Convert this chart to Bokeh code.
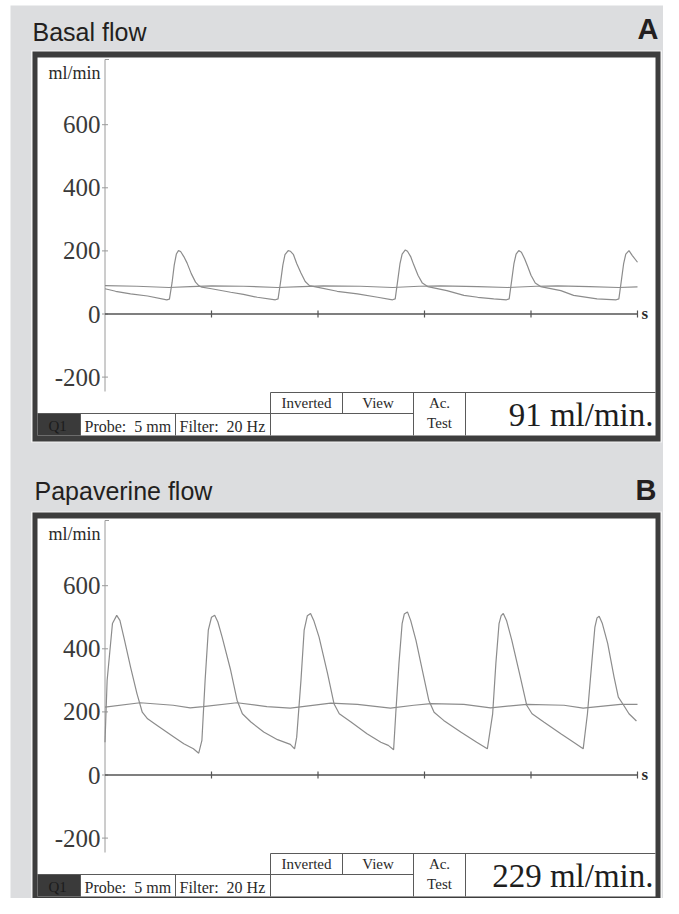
import math
from bokeh.plotting import figure
from bokeh.models import Range1d
from bokeh.core.properties import value
from bokeh.embed import file_html
from bokeh.resources import INLINE

# ---------------- data ----------------
y_ticks = [600, 400, 200, 0, -200]
y_tick_labels = ["600", "400", "200", "0", "-200"]
t_ticks = [1, 2, 3, 4, 5]

# Panel A: basal flow (pulsatile trace, ml/min vs s)
basal_t = [0.00, 0.10, 0.24, 0.40, 0.58, 0.605, 0.63, 0.65, 0.67, 0.69, 0.71, 0.74, 0.77, 0.81, 0.85, 0.88, 0.91,
           1.00, 1.18, 1.30, 1.43, 1.60, 1.625, 1.65, 1.67, 1.69, 1.72, 1.74, 1.77, 1.80, 1.84, 1.88, 1.92, 1.99,
           2.18, 2.37, 2.56, 2.70, 2.725, 2.75, 2.77, 2.79, 2.82, 2.84, 2.87, 2.90, 2.94, 2.98, 3.03,
           3.21, 3.37, 3.50, 3.65, 3.77, 3.795, 3.82, 3.84, 3.86, 3.885, 3.91, 3.94, 3.97, 4.00, 4.04, 4.09,
           4.28, 4.40, 4.62, 4.80, 4.825, 4.85, 4.87, 4.89, 4.92, 4.95, 5.00]
basal_flow = [80, 72, 64, 57, 45, 47, 100, 155, 190, 201, 198, 182, 162, 128, 101, 90, 85,
              80, 69, 62, 53, 45, 48, 105, 155, 188, 201, 199, 188, 160, 130, 103, 90, 85,
              72, 64, 53, 45, 48, 110, 160, 190, 203, 199, 182, 155, 122, 98, 87,
              74, 59, 53, 48, 45, 48, 110, 160, 190, 201, 196, 175, 150, 123, 98, 87,
              74, 59, 48, 45, 48, 110, 160, 190, 201, 186, 164]
# Panel A: mean flow trace
basal_mean_t = [0.00, 0.30, 0.60, 0.80, 1.00, 1.30, 1.62, 1.85, 2.05, 2.40, 2.70, 2.95, 3.15, 3.50, 3.78,
                4.05, 4.25, 4.55, 4.82, 5.00]
basal_mean = [90, 88, 84, 87, 89, 88, 84, 87, 89, 88, 84, 88, 89, 87, 84, 88, 89, 87, 84, 86]

# Panel B: papaverine flow (pulsatile trace)
pap_t = [0.00, 0.02, 0.07, 0.11, 0.14, 0.18, 0.24, 0.30, 0.35, 0.40, 0.49, 0.65, 0.74, 0.83, 0.88,
         0.91, 0.94, 0.97, 1.00, 1.03, 1.06, 1.10, 1.18, 1.24, 1.29, 1.37, 1.49, 1.62, 1.74, 1.78,
         1.80, 1.84, 1.87, 1.90, 1.93, 1.96, 2.01, 2.09, 2.15, 2.20, 2.31, 2.46, 2.59, 2.66, 2.71,
         2.73, 2.76, 2.79, 2.81, 2.84, 2.87, 2.92, 2.98, 3.04, 3.09, 3.18, 3.34, 3.49, 3.59,
         3.64, 3.67, 3.70, 3.72, 3.74, 3.77, 3.82, 3.90, 3.96, 4.01, 4.12, 4.28, 4.40, 4.49,
         4.53, 4.57, 4.60, 4.62, 4.64, 4.67, 4.72, 4.78, 4.82, 4.87, 4.92, 4.99]
pap_flow = [104, 300, 480, 506, 490, 432, 342, 258, 199, 178, 157, 120, 99, 83, 69,
            110, 300, 459, 500, 506, 485, 437, 332, 237, 194, 168, 136, 112, 97, 83,
            120, 300, 459, 505, 512, 490, 437, 321, 226, 194, 168, 131, 104, 94, 80,
            194, 353, 480, 510, 517, 490, 427, 332, 237, 199, 173, 136, 104, 83,
            194, 353, 480, 505, 512, 490, 427, 310, 221, 194, 168, 131, 104, 83,
            194, 353, 469, 498, 503, 480, 417, 310, 247, 221, 194, 171]
# Panel B: mean flow trace
pap_mean_t = [0.00, 0.33, 0.64, 0.80, 0.92, 1.24, 1.52, 1.74, 2.12, 2.37, 2.68, 2.90, 3.06, 3.37, 3.62,
              3.96, 4.31, 4.49, 4.84, 5.00]
pap_mean = [215, 229, 221, 213, 217, 229, 217, 212, 228, 224, 212, 221, 226, 224, 213, 224, 221, 212, 224, 224]

panel_titles = ["Basal flow", "Papaverine flow"]
panel_letters = ["A", "B"]
readings = ["91 ml/min.", "229 ml/min."]
unit_label = "ml/min"
time_label = "s"
probe_text = "Probe:\u00a0 5 mm"
filter_text = "Filter:\u00a0 20 Hz"
channel_text = "Q1"
btn_texts = ["Inverted", "View"]
ac_texts = ["Ac.", "Test"]

# ---------------- layout (screen pixels) ----------------
W, H = 663, 898
OFF = 0
X0, SX = 104.5, 106.5      # x of t=0, px per second
K = 0.3155                 # px per ml/min
ZERO = [313.5, 774.5]      # y of 0 ml/min in each panel
DY = [0, 461]              # vertical offset of panel B

SERIF = value("Liberation Serif")
SANS = value("Liberation Sans")

p = figure(width=W, height=H, output_backend="svg", toolbar_location=None,
           x_axis_type=None, y_axis_type=None, min_border=0,
           x_range=Range1d((OFF - X0) / SX, (OFF + W - X0) / SX),
           y_range=Range1d((ZERO[0] - (OFF + H)) / K, (ZERO[0] - OFF) / K))
p.extra_x_ranges = {"px": Range1d(OFF, OFF + W)}
p.extra_y_ranges = {"px": Range1d(OFF + H, OFF),
                    "b": Range1d((ZERO[1] - (OFF + H)) / K, (ZERO[1] - OFF) / K)}
p.outline_line_color = None
p.background_fill_color = "white"
p.border_fill_color = "white"
p.min_border_left = p.min_border_right = p.min_border_top = p.min_border_bottom = 0

PX = dict(x_range_name="px", y_range_name="px")

# gray backdrop
p.quad(left=[10], right=[OFF + W], top=[5], bottom=[OFF + H], fill_color="#dcdddf", line_color=None, **PX)

yr_names = ["default", "b"]
series = [(basal_t, basal_flow, basal_mean_t, basal_mean), (pap_t, pap_flow, pap_mean_t, pap_mean)]

for i in range(2):
    d = DY[i]
    yr = yr_names[i]
    # monitor frame
    p.quad(left=[30.5], right=[661.5], top=[50 + d], bottom=[442 + d], fill_color="#f3f3f3", line_color=None, **PX)
    p.quad(left=[32], right=[660], top=[51 + d], bottom=[441 + d], fill_color="#3d3d3d", line_color=None, **PX)
    p.quad(left=[37], right=[655], top=[57 + d], bottom=[435 + d], fill_color="white", line_color=None, **PX)
    # status bar
    p.quad(left=[37], right=[80], top=[413 + d], bottom=[435 + d], fill_color="#3a3a3a", line_color=None, **PX)
    hx0 = [37, 270, 270]
    hx1 = [270, 655, 413]
    hy = [413 + d, 392 + d, 413 + d]
    p.segment(x0=hx0, x1=hx1, y0=hy, y1=hy, line_color="#5a5a5a", line_width=1, **PX)
    vx = [80, 175, 270, 342, 413, 465]
    vy0 = [413 + d, 413 + d, 392 + d, 392 + d, 392 + d, 392 + d]
    vy1 = [435 + d, 435 + d, 435 + d, 413 + d, 435 + d, 435 + d]
    p.segment(x0=vx, x1=vx, y0=vy0, y1=vy1, line_color="#5a5a5a", line_width=1, **PX)

    # status texts
    p.text(x=[48], y=[425.5 + d], text=[channel_text], text_font=SERIF, text_font_size="15px",
           text_color="#1c1c1c", text_baseline="middle", **PX)
    p.text(x=[84, 179], y=[425.5 + d, 425.5 + d], text=[probe_text, filter_text], text_font=SERIF,
           text_font_size="16px", text_color="#2a2a2a", text_baseline="middle", **PX)
    p.text(x=[306, 377.5, 439, 439], y=[402.5 + d, 402.5 + d, 402 + d, 422 + d],
           text=btn_texts + ac_texts, text_font=SERIF, text_font_size="15px", text_color="#2a2a2a",
           text_align="center", text_baseline="middle", **PX)
    p.text(x=[653], y=[414 + d], text=[readings[i]], text_font=SERIF, text_font_size="33px",
           text_color="#1e1e1e", text_align="right", text_baseline="middle", **PX)

    # titles
    p.text(x=[32 + 2 * i], y=[31 + 459 * i], text=[panel_titles[i]], text_font=SANS, text_font_size="25px",
           text_color="#231f20", text_baseline="middle", **PX)
    p.text(x=[658 - 2 * i], y=[28.5 + 461 * i], text=[panel_letters[i]], text_font=SANS, text_font_size="29px",
           text_font_style="bold", text_color="#231f20", text_align="right", text_baseline="middle", **PX)

    # y axis (drawn through data scales)
    p.segment(x0=[0], x1=[0], y0=[59 + d], y1=[391 + d], line_color="#9a9a9a", line_width=1,
              x_range_name="default", y_range_name="px")
    p.segment(x0=[104.5], x1=[108.5], y0=[59 + d], y1=[59 + d], line_color="#9a9a9a", line_width=1, **PX)
    p.scatter(x=[0] * len(y_ticks), y=y_ticks, marker="dash", size=6, line_color="#9a9a9a", line_width=1,
              y_range_name=yr)
    p.text(x=[100] * len(y_ticks), y=y_ticks, text=y_tick_labels, text_font=SERIF, text_font_size="25px",
           text_color="#3a3a3a", text_align="right", text_baseline="middle",
           x_range_name="px", y_range_name=yr)
    p.text(x=[100], y=[72.5 + d], text=[unit_label], text_font=SERIF, text_font_size="18px",
           text_color="#2a2a2a", text_align="right", text_baseline="middle", **PX)

    # time axis
    p.segment(x0=[0], x1=[t_ticks[-1]], y0=[0], y1=[0], line_color="#555555", line_width=1.4, y_range_name=yr)
    p.scatter(x=t_ticks, y=[0] * len(t_ticks), marker="dash", angle=math.pi / 2, size=7,
              line_color="#555555", line_width=1.2, y_range_name=yr)
    p.text(x=[t_ticks[-1]], y=[0], text=[time_label], x_offset=4, y_offset=-1, text_font=SERIF,
           text_font_size="17px", text_font_style="bold", text_color="#2a2a2a", text_baseline="middle",
           y_range_name=yr)

    # traces
    tt, ff, mt, mv = series[i]
    p.line(mt, mv, line_color="#8c8c8c", line_width=1.2, y_range_name=yr)
    p.line(tt, ff, line_color="#8c8c8c", line_width=1.2, y_range_name=yr)

open("out.html", "w").write(file_html(p, INLINE))
